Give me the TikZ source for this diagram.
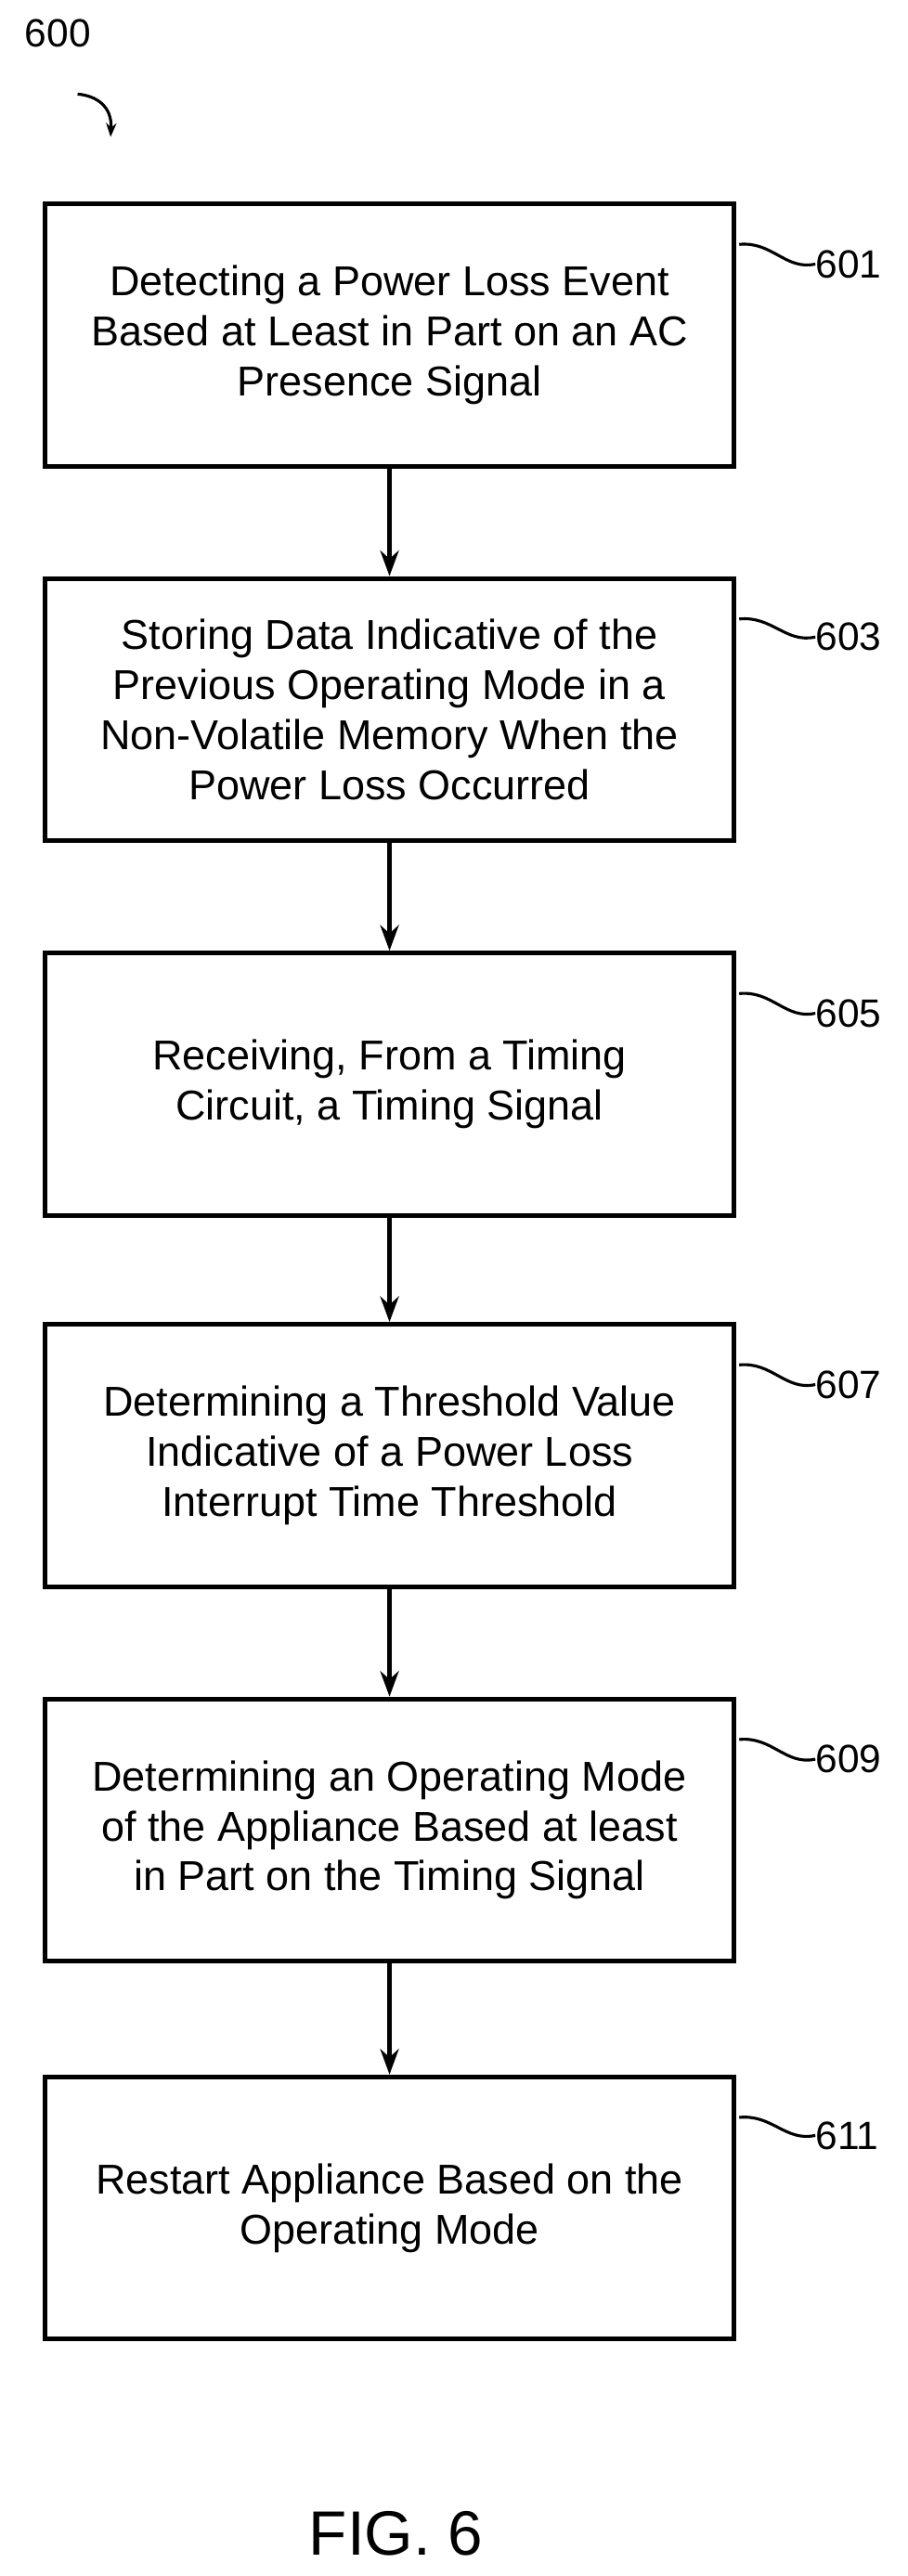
\documentclass[tikz,border=0pt]{standalone}
\usepackage{fontspec}
\setmainfont{Liberation Sans}
\usetikzlibrary{positioning,arrows.meta}
\tikzset{
  >={Stealth[length=22pt,width=16pt]},
  stepbox/.style={draw,line width=4pt,minimum width=20.85cm,minimum height=7.95cm,
    align=center,font=\fontsize{36}{43}\selectfont,inner sep=0pt},
  flow/.style={->,line width=4pt},
  lead/.style={line width=2.5pt},
  ref/.style={font=\fontsize{34}{40}\selectfont,anchor=west,inner sep=0pt}
}
\begin{document}
\begin{tikzpicture}[x=0.05cm,y=-0.05cm]
  \useasboundingbox (0,0) rectangle (550,1561);

  % steps
  \node[stepbox] (s601) at (236,203) {Detecting a Power Loss Event\\Based at Least in Part on an AC\\Presence Signal};
  \node[stepbox] (s603) at (236,430) {Storing Data Indicative of the\\Previous Operating Mode in a\\Non-Volatile Memory When the\\Power Loss Occurred};
  \node[stepbox] (s605) at (236,657) {Receiving, From a Timing\\Circuit, a Timing Signal};
  \node[stepbox] (s607) at (236,882) {Determining a Threshold Value\\Indicative of a Power Loss\\Interrupt Time Threshold};
  \node[stepbox] (s609) at (236,1109) {Determining an Operating Mode\\of the Appliance Based at least\\in Part on the Timing Signal};
  \node[stepbox] (s611) at (236,1338) {Restart Appliance Based on the\\Operating Mode};

  \draw[flow] (s601) -- (s603);
  \draw[flow] (s603) -- (s605);
  \draw[flow] (s605) -- (s607);
  \draw[flow] (s607) -- (s609);
  \draw[flow] (s609) -- (s611);

  % reference numerals
  \foreach \n/\y in {601/124,603/350,605/578,607/803,609/1030,611/1258}{
    \node[ref] (r\n) at (494,\y+36) {\n};
    \draw[lead] (s\n.north east) ++(2,26) .. controls +(20,-2) and +(-18,4) .. (r\n.west);
  }

  \node[ref,anchor=center] (r600) at (35,20) {600};
  \coordinate (t600) at (67,83);
  \draw[lead,->,>={Stealth[length=12pt,width=9pt]}] (47,57) .. controls (58,58) and (68,64) .. (t600);

  \node[font=\fontsize{54}{64}\selectfont] (fig) at (240,1535) {FIG. 6};
\end{tikzpicture}
\end{document}
